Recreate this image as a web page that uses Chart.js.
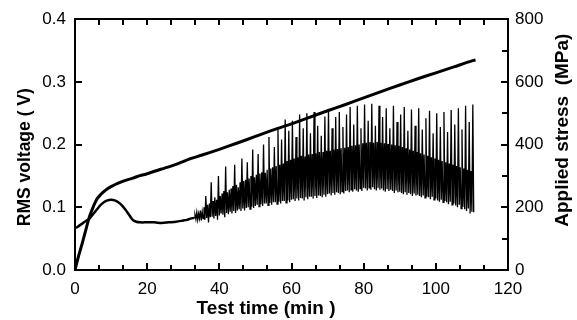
<!DOCTYPE html>
<html>
<head>
<meta charset="utf-8">
<script src="https://cdn.jsdelivr.net/npm/chart.js@4"></script>
<style>
html,body{margin:0;padding:0;background:#fff;}
#wrap{width:577px;height:320px;}
</style>
</head>
<body>
<div id="wrap"><canvas id="c" width="577" height="320"></canvas></div>
<script>
// ---- data ----
// Applied stress (MPa), right axis
const stressTime = [0, 1, 2, 3, 4, 5, 6, 7, 8, 9, 10, 12, 14, 16, 18, 20, 22, 24, 26, 28, 30, 32, 35, 40, 45, 50, 55, 60, 65, 70, 75, 80, 85, 90, 95, 100, 105, 110, 111];
const stressMPa  = [0, 45, 85, 128, 170, 200, 225, 239, 250, 259, 266, 277, 286, 293, 301, 307, 315, 322, 329, 337, 346, 355, 366, 385, 405, 426, 447, 466, 487, 508, 528, 549, 570, 590, 610, 629, 648, 667, 670];

// RMS voltage (V), left axis - smooth early part
const rmsTime = [0, 0.5, 1, 2, 3, 4, 5, 6, 7, 8, 9, 10, 11, 12, 13, 14, 15, 16, 17, 18, 20, 22, 24, 26, 28, 30, 31, 32, 33];
const rmsV    = [0.068, 0.068, 0.070, 0.074, 0.078, 0.082, 0.089, 0.096, 0.103, 0.108, 0.111, 0.112, 0.111, 0.108, 0.103, 0.096, 0.088, 0.080, 0.077, 0.076, 0.076, 0.076, 0.075, 0.076, 0.077, 0.079, 0.080, 0.082, 0.083];

// RMS voltage (V) - fluctuating part, sampled every 0.25 min from 33 min (rows = 2.5 min)
const noiseStartMin = 33;
const noiseStepMin = 0.25;
const rmsNoiseV = [
  0.083, 0.088, 0.081, 0.092, 0.080, 0.090, 0.082, 0.095, 0.079, 0.093,
  0.082, 0.100, 0.080, 0.118, 0.083, 0.104, 0.076, 0.106, 0.084, 0.140,
  0.085, 0.110, 0.082, 0.116, 0.086, 0.112, 0.080, 0.150, 0.087, 0.118,
  0.090, 0.122, 0.088, 0.126, 0.084, 0.165, 0.091, 0.124, 0.089, 0.128,
  0.093, 0.130, 0.090, 0.134, 0.094, 0.168, 0.091, 0.136, 0.095, 0.132,
  0.097, 0.140, 0.094, 0.178, 0.098, 0.142, 0.095, 0.144, 0.099, 0.172,
  0.100, 0.146, 0.097, 0.150, 0.101, 0.192, 0.099, 0.148, 0.102, 0.152,
  0.104, 0.185, 0.101, 0.154, 0.105, 0.156, 0.102, 0.200, 0.106, 0.155,
  0.106, 0.160, 0.103, 0.212, 0.107, 0.162, 0.104, 0.164, 0.108, 0.196,
  0.108, 0.166, 0.105, 0.225, 0.109, 0.168, 0.106, 0.208, 0.110, 0.170,
  0.110, 0.240, 0.107, 0.174, 0.111, 0.222, 0.108, 0.176, 0.112, 0.238,
  0.113, 0.178, 0.110, 0.212, 0.114, 0.180, 0.111, 0.248, 0.115, 0.182,
  0.114, 0.226, 0.111, 0.181, 0.116, 0.250, 0.113, 0.184, 0.117, 0.218,
  0.117, 0.185, 0.114, 0.252, 0.118, 0.186, 0.115, 0.230, 0.119, 0.188,
  0.118, 0.214, 0.116, 0.188, 0.120, 0.245, 0.117, 0.190, 0.121, 0.254,
  0.122, 0.190, 0.119, 0.226, 0.123, 0.192, 0.120, 0.244, 0.124, 0.193,
  0.123, 0.252, 0.121, 0.194, 0.125, 0.228, 0.122, 0.195, 0.126, 0.248,
  0.127, 0.196, 0.124, 0.260, 0.128, 0.198, 0.125, 0.232, 0.129, 0.199,
  0.127, 0.262, 0.125, 0.200, 0.130, 0.226, 0.126, 0.202, 0.131, 0.264,
  0.130, 0.203, 0.127, 0.238, 0.131, 0.204, 0.128, 0.265, 0.132, 0.203,
  0.129, 0.230, 0.127, 0.204, 0.131, 0.262, 0.128, 0.203, 0.130, 0.244,
  0.127, 0.202, 0.125, 0.258, 0.129, 0.201, 0.126, 0.226, 0.128, 0.200,
  0.126, 0.262, 0.123, 0.199, 0.127, 0.236, 0.124, 0.198, 0.125, 0.248,
  0.123, 0.196, 0.121, 0.260, 0.124, 0.194, 0.120, 0.222, 0.123, 0.192,
  0.121, 0.256, 0.118, 0.190, 0.122, 0.230, 0.119, 0.188, 0.120, 0.258,
  0.118, 0.186, 0.116, 0.224, 0.119, 0.184, 0.115, 0.242, 0.117, 0.182,
  0.116, 0.254, 0.113, 0.180, 0.117, 0.218, 0.112, 0.178, 0.114, 0.250,
  0.111, 0.176, 0.109, 0.228, 0.112, 0.174, 0.108, 0.252, 0.110, 0.172,
  0.108, 0.220, 0.105, 0.170, 0.109, 0.255, 0.104, 0.168, 0.106, 0.232,
  0.103, 0.166, 0.100, 0.258, 0.104, 0.164, 0.098, 0.224, 0.101, 0.162,
  0.097, 0.262, 0.094, 0.160, 0.098, 0.236, 0.090, 0.158, 0.093, 0.264,
  0.092
];

// ticks / labels
const xTickLabels = [0, 20, 40, 60, 80, 100, 120];
const yLeftTickLabels = ['0.0', '0.1', '0.2', '0.3', '0.4'];
const yRightTickLabels = ['0', '200', '400', '600', '800'];
const xTitle = 'Test time (min )';
const yLeftTitle = 'RMS voltage ( V)';
const yRightTitle = 'Applied stress  (MPa)';

// ---- build ----
const toXY = (xs, ys) => xs.map((x, i) => ({x: x, y: ys[i]}));
const noisePts = rmsNoiseV.map((v, i) => ({x: noiseStartMin + i * noiseStepMin, y: v}));

const TICK_FONT = {family: '"Liberation Sans", Arial, sans-serif', size: 17};
const TITLE_FONT = '"Liberation Sans", Arial, sans-serif';

const framePlugin = {
  id: 'frame',
  afterDatasetsDraw(chart) {
    const ctx = chart.ctx, a = chart.chartArea, s = chart.scales;
    ctx.save();
    ctx.globalAlpha = 1;
    ctx.globalCompositeOperation = 'source-over';
    ctx.setLineDash([]);
    ctx.strokeStyle = '#000000';
    ctx.lineCap = 'butt';
    ctx.lineWidth = 2;
    const L = Math.round(a.left), R = Math.round(a.right), T = Math.round(a.top), B = Math.round(a.bottom);
    const seg = (x1, y1, x2, y2) => { ctx.beginPath(); ctx.moveTo(x1, y1); ctx.lineTo(x2, y2); ctx.stroke(); };
    // top frame line
    seg(L - 1, T, R + 1, T);
    // x ticks (inward), 3 subdivisions per labelled interval
    for (let i = 0; i < xTickLabels.length; i++) {
      for (let k = 0; k < 3; k++) {
        if (i === xTickLabels.length - 1 && k > 0) break;
        const step = i < xTickLabels.length - 1 ? (xTickLabels[i + 1] - xTickLabels[i]) : 0;
        const v = xTickLabels[i] + step * k / 3;
        const x = Math.round(s.x.getPixelForValue(v));
        const len = k === 0 ? 7 : 5;
        seg(x, B, x, B - len);
        seg(x, T, x, T + 6);
      }
    }
    // left ticks
    yLeftTickLabels.forEach(t => {
      const y = Math.round(s.y.getPixelForValue(parseFloat(t)));
      seg(L, y, L + 7, y);
    });
    // right ticks (major + minor)
    for (let i = 0; i < yRightTickLabels.length; i++) {
      const v = parseFloat(yRightTickLabels[i]);
      let y = Math.round(s.y2.getPixelForValue(v));
      seg(R, y, R - 7, y);
      if (i < yRightTickLabels.length - 1) {
        const m = (v + parseFloat(yRightTickLabels[i + 1])) / 2;
        y = Math.round(s.y2.getPixelForValue(m));
        seg(R, y, R - 6, y);
      }
    }
    ctx.restore();
  },
  afterDraw(chart) {
    const ctx = chart.ctx, a = chart.chartArea;
    ctx.save();
    ctx.fillStyle = '#000';
    ctx.textAlign = 'center';
    ctx.textBaseline = 'middle';
    ctx.font = 'bold 19px ' + TITLE_FONT;
    ctx.fillText(xTitle, a.left + 191, a.bottom + 39);
    ctx.save();
    ctx.translate(25, a.top + 138);
    ctx.rotate(-Math.PI / 2);
    ctx.font = 'bold 17.5px ' + TITLE_FONT;
    ctx.fillText(yLeftTitle, 0, 0);
    ctx.restore();
    ctx.save();
    ctx.translate(a.right + 55, a.top + 111);
    ctx.rotate(-Math.PI / 2);
    ctx.font = 'bold 19px ' + TITLE_FONT;
    ctx.fillText(yRightTitle, 0, 0);
    ctx.restore();
    ctx.restore();
  }
};

new Chart(document.getElementById('c'), {
  type: 'line',
  data: {
    datasets: [
      {
        label: 'Applied stress',
        data: toXY(stressTime, stressMPa),
        yAxisID: 'y2',
        borderColor: '#000',
        borderWidth: 3,
        pointRadius: 0,
        tension: 0.3,
        fill: false
      },
      {
        label: 'RMS voltage',
        data: toXY(rmsTime, rmsV),
        yAxisID: 'y',
        borderColor: '#000',
        borderWidth: 2.5,
        pointRadius: 0,
        tension: 0.3,
        fill: false
      },
      {
        label: 'RMS voltage (fluctuating)',
        data: noisePts,
        yAxisID: 'y',
        borderColor: '#000',
        borderWidth: 1.3,
        pointRadius: 0,
        tension: 0,
        fill: false
      }
    ]
  },
  options: {
    responsive: false,
    animation: false,
    devicePixelRatio: 1,
    layout: {padding: {top: 14, left: 0, right: 0, bottom: 0}},
    plugins: {legend: {display: false}, tooltip: {enabled: false}},
    scales: {
      x: {
        type: 'linear', position: 'bottom', min: 0, max: 120,
        grid: {display: false, drawTicks: false},
        border: {display: true, color: '#000', width: 2},
        ticks: {
          stepSize: 20, color: '#000', font: TICK_FONT, padding: 9, maxRotation: 0,
          callback: (v) => xTickLabels.includes(v) ? String(v) : ''
        },
        afterFit: (sc) => { sc.height = 50; }
      },
      y: {
        type: 'linear', position: 'left', min: 0, max: 0.4,
        grid: {display: false, drawTicks: false},
        border: {display: true, color: '#000', width: 2},
        ticks: {
          stepSize: 0.1, color: '#000', font: TICK_FONT, padding: 9,
          callback: (v) => yLeftTickLabels[Math.round(v * 10)]
        },
        afterFit: (sc) => { sc.width = 75; }
      },
      y2: {
        type: 'linear', position: 'right', min: 0, max: 800,
        grid: {display: false, drawTicks: false},
        border: {display: true, color: '#000', width: 2},
        ticks: {
          stepSize: 200, color: '#000', font: TICK_FONT, padding: 7,
          callback: (v) => yRightTickLabels[Math.round(v / 200)]
        },
        afterFit: (sc) => { sc.width = 69; }
      }
    }
  },
  plugins: [framePlugin]
});
</script>
</body>
</html>
